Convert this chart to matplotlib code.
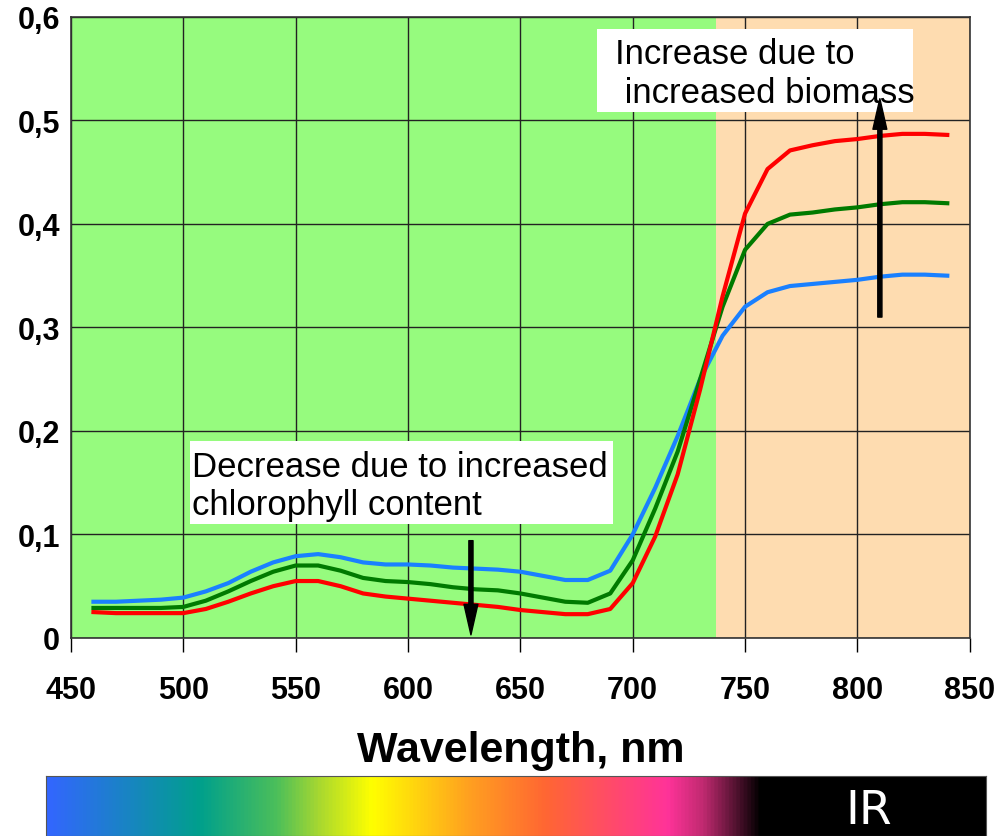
import numpy as np
import matplotlib
matplotlib.use("Agg")
from matplotlib import pyplot as plt
from matplotlib.colors import LinearSegmentedColormap
from matplotlib.patches import Rectangle

plt.rcParams['font.family'] = ['Liberation Sans', 'DejaVu Sans']

wavelength = list(range(460, 850, 10))
blue = [0.035, 0.035, 0.036, 0.037, 0.039, 0.045, 0.053, 0.064, 0.073, 0.079,
        0.081, 0.078, 0.073, 0.071, 0.071, 0.070, 0.068, 0.067, 0.066, 0.064,
        0.060, 0.056, 0.056, 0.065, 0.100, 0.145, 0.195, 0.250, 0.292, 0.320,
        0.334, 0.340, 0.342, 0.344, 0.346, 0.349, 0.351, 0.351, 0.350]
green = [0.029, 0.029, 0.029, 0.029, 0.030, 0.036, 0.045, 0.055, 0.064, 0.070,
         0.070, 0.065, 0.058, 0.055, 0.054, 0.052, 0.049, 0.047, 0.046, 0.043,
         0.039, 0.035, 0.034, 0.043, 0.075, 0.125, 0.180, 0.250, 0.320, 0.375,
         0.400, 0.409, 0.411, 0.414, 0.416, 0.419, 0.421, 0.421, 0.420]
red = [0.025, 0.024, 0.024, 0.024, 0.024, 0.028, 0.035, 0.043, 0.050, 0.055,
       0.055, 0.050, 0.043, 0.040, 0.038, 0.036, 0.034, 0.032, 0.030, 0.027,
       0.025, 0.023, 0.023, 0.028, 0.053, 0.098, 0.158, 0.240, 0.330, 0.410,
       0.453, 0.471, 0.476, 0.480, 0.482, 0.485, 0.487, 0.487, 0.486]

xticks = [450, 500, 550, 600, 650, 700, 750, 800, 850]
yticks = [0, 0.1, 0.2, 0.3, 0.4, 0.5, 0.6]
ytick_labels = ["0", "0,1", "0,2", "0,3", "0,4", "0,5", "0,6"]
ir_edge = 737

fig = plt.figure(figsize=(10.07, 8.37), dpi=100)
ax = fig.add_axes([0.0705, 0.2366, 0.8925, 0.742])

# fonds visible / infrarouge
ax.axvspan(450, ir_edge, color='#96fb7e', zorder=0, lw=0)
ax.axvspan(ir_edge, 850, color='#fedcb0', zorder=0, lw=0)

ax.plot(wavelength, blue, color='#1a80ff', lw=3, zorder=3)
ax.plot(wavelength, green, color='#007a00', lw=3, zorder=3)
ax.plot(wavelength, red, color='#ff0000', lw=3, zorder=3)

ax.set_xlim(450, 850)
ax.set_ylim(0, 0.6)
ax.set_xticks(xticks)
ax.set_xticklabels([str(v) for v in xticks], fontsize=22, fontweight='bold')
ax.set_yticks(yticks)
ax.set_yticklabels(ytick_labels, fontsize=22, fontweight='bold')
ax.tick_params(axis='x', direction='out', length=10, width=1, pad=17)
ax.tick_params(axis='y', length=0, pad=8)
ax.grid(True, color='#222222', lw=1, zorder=1)
ax.set_axisbelow(True)
for s in ax.spines.values():
    s.set_color('#333333')
    s.set_linewidth(1.2)

ax.set_xlabel("Wavelength, nm", fontsize=31, fontweight='bold', labelpad=18)

# encadres de texte
ax.add_patch(Rectangle((684.0, 0.5082), 140.6, 0.0802, facecolor='white',
                       edgecolor='none', zorder=4))
ax.text(692.0, 0.5805, "Increase due to\n increased biomass", fontsize=25,
        va='top', ha='left', linespacing=1.21, zorder=5)
ax.add_patch(Rectangle((502.9, 0.1101), 188.3, 0.0802, facecolor='white',
                       edgecolor='none', zorder=4))
ax.text(503.8, 0.1815, "Decrease due to increased\nchlorophyll content",
        fontsize=25, va='top', ha='left', linespacing=1.18, zorder=5)

# fleches
ax.annotate('', xy=(810, 0.521), xytext=(810, 0.31),
            arrowprops=dict(facecolor='black', edgecolor='black', width=3,
                            headwidth=10, headlength=22, shrink=0), zorder=6)
ax.annotate('', xy=(628, 0.003), xytext=(628, 0.094),
            arrowprops=dict(facecolor='black', edgecolor='black', width=3,
                            headwidth=10, headlength=22, shrink=0), zorder=6)

# bande spectrale
spec = LinearSegmentedColormap.from_list('spec', [
    (0.0, '#3366ff'), (0.163, '#00a08c'), (0.245, '#4cbf5a'),
    (0.29, '#a8d830'), (0.346, '#ffff00'), (0.45, '#ffa020'),
    (0.532, '#ff6633'), (0.662, '#ff3399'), (0.70, '#c02a70'),
    (0.761, '#000000'), (1.0, '#000000')])
bax = fig.add_axes([46 / 1007, 0, 940 / 1007, 60 / 837])
bax.imshow(np.linspace(0, 1, 512)[None, :], aspect='auto', cmap=spec,
           extent=[0, 1, 0, 1])
bax.set_xticks([])
bax.set_yticks([])
for s in bax.spines.values():
    s.set_color('#555555')
bax.text(0.875, 0.42, "IR", color='white', fontsize=34, ha='center',
         va='center', transform=bax.transAxes, family='Liberation Sans Narrow')

fig.savefig("out.png", dpi=100)
